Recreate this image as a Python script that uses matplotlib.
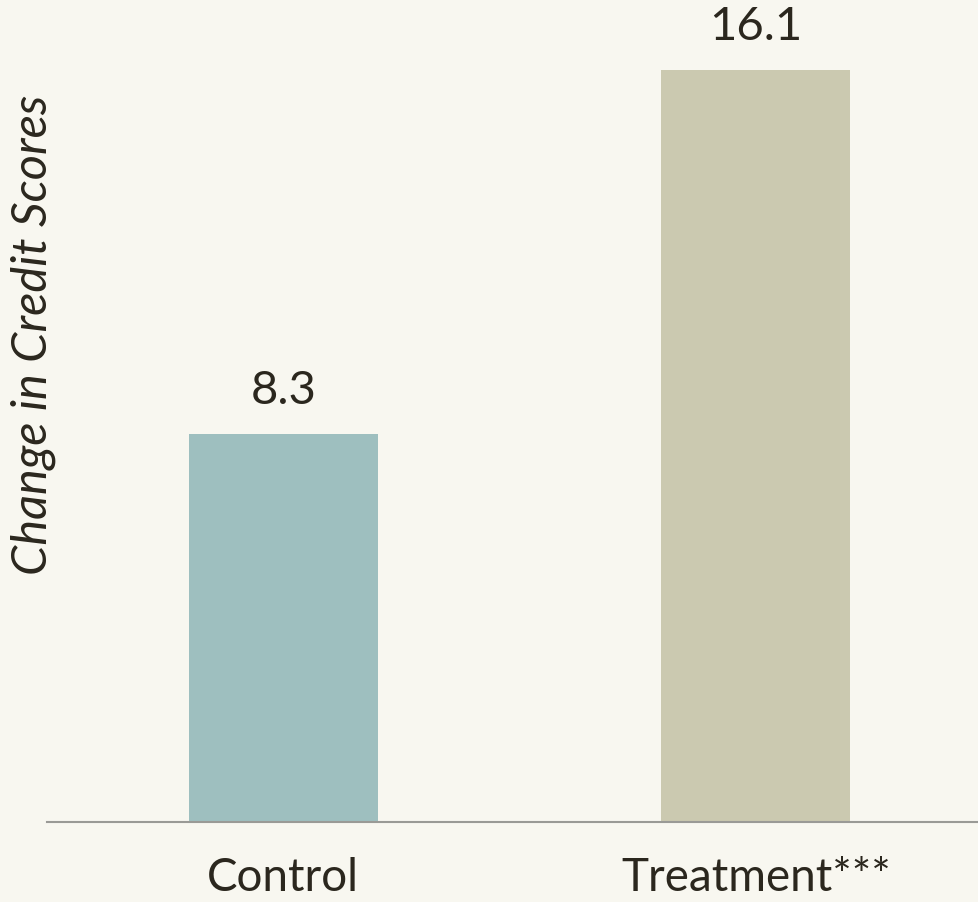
import matplotlib.pyplot as plt

groups = ["Control", "Treatment***"]
changes = [8.3, 16.1]
colors = ["#9ebfbf", "#cbc9b0"]

bg = "#f8f7f0"
ink = "#2b271e"

plt.rcParams['font.family'] = ['Lato', 'DejaVu Sans']

fig = plt.figure(figsize=(9.79, 9.02), dpi=100, facecolor=bg)
ax = fig.add_axes([47 / 979, 80 / 902, 1 - 47 / 979, 822 / 902])
ax.set_facecolor(bg)

x = range(len(groups))
bars = ax.bar(x, changes, width=0.4, color=colors, zorder=2)

for rect, val in zip(bars, changes):
    ax.annotate(f"{val}", (rect.get_x() + rect.get_width() / 2, val),
                xytext=(0, 16), textcoords="offset points",
                ha="center", va="bottom", fontsize=34, color=ink)

ax.set_xlim(-0.5, 1.472)
ax.set_ylim(0, 822 / 46.7)
ax.set_xticks(list(x))
ax.set_xticklabels(groups, fontsize=33, color=ink)
ax.tick_params(axis="x", length=0, pad=25)
ax.set_yticks([])

for side in ["top", "right", "left"]:
    ax.spines[side].set_visible(False)
ax.spines["bottom"].set_color("#9a9a96")
ax.spines["bottom"].set_linewidth(1.5)

fig.text(33 / 979, 1 - 335 / 902, "Change in Credit Scores", rotation=90,
         ha="center", va="center", fontsize=35, style="italic", color=ink)

fig.savefig("out.png", dpi=100, facecolor=bg)
